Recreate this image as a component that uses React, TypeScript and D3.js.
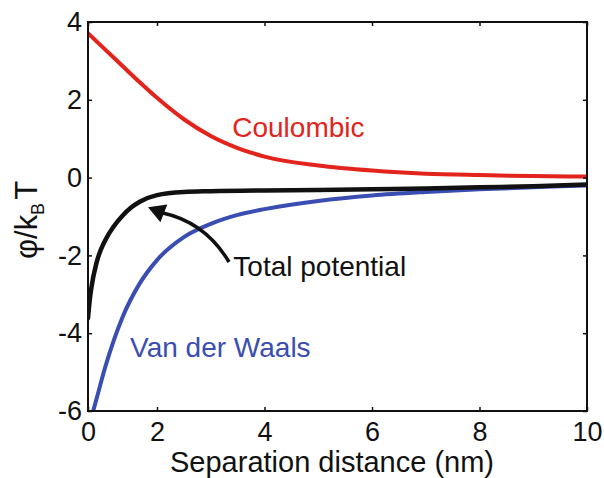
import React, { useRef, useEffect } from 'react';
import * as d3 from 'd3';

const width = 604;
const height = 478;

// tick values
const xTicks = [0, 2, 4, 6, 8, 10];
const yTicks = [-6, -4, -2, 0, 2, 4];

// Coulombic (red)
const coulombX = [0, 0.5, 1, 1.5, 2, 2.5, 3, 3.5, 4, 5, 6, 7, 8, 9, 10];
const coulombY = [3.71, 3.29, 2.87, 2.45, 2.05, 1.5, 1.07, 0.76, 0.54, 0.31, 0.18, 0.1, 0.064, 0.039, 0.026];

// Van der Waals (blue)
const vdwX = [0.15, 0.25, 0.5, 0.75, 1, 1.5, 2, 2.5, 3, 3.5, 4, 5, 6, 7, 8, 9, 10];
const vdwY = [-6.0, -5.68, -4.87, -4.18, -3.59, -2.72, -2.12, -1.53, -1.19, -0.96, -0.81, -0.6, -0.46, -0.37, -0.3, -0.25, -0.2];

// Total potential (black)
const totalX = [0, 0.05, 0.1, 0.25, 0.5, 0.75, 1, 1.25, 1.5, 2, 2.5, 3, 4, 5, 6, 7, 8, 9, 10];
const totalY = [-3.62, -3.15, -2.82, -2.18, -1.61, -1.25, -0.98, -0.77, -0.62, -0.45, -0.37, -0.35, -0.33, -0.32, -0.3, -0.28, -0.25, -0.22, -0.18];

// text labels, in data units
const labelText = ['Coulombic', 'Van der Waals', 'Total potential'];
const labelX = [3.4, 1.22, 3.42];
const labelY = [1.04, -4.62, -2.54];
const labelColor = ['#e2241c', '#3a4db2', '#111'];

// arrow from "Total potential" to the black curve: tail, control, end of shaft, tip
const arrowX = [3.34, 2.9, 2.11, 1.74];
const arrowY = [-2.17, -1.15, -0.91, -0.76];

const FONT = '"Liberation Sans", Arial, Helvetica, sans-serif';

const App = () => {
  const ref = useRef(null);

  useEffect(() => {
    const svg = d3.select(ref.current);
    svg.selectAll('*').remove();

    const left = 88, right = 587, top = 22, bottom = 411;

    // the 0 tick sits closer to 2 than the other ticks do in the figure
    const x = d3.scaleLinear().domain([0, 2, 10]).range([left, 157, right]);
    const y = d3.scaleLinear().domain([-6, 4]).range([bottom, top]);

    svg.append('defs').append('clipPath').attr('id', 'plot-clip')
      .append('rect')
        .attr('x', left).attr('y', top)
        .attr('width', right - left).attr('height', bottom - top);

    const line = d3.line()
      .x(d => x(d[0]))
      .y(d => y(d[1]))
      .curve(d3.curveMonotoneX);

    const series = [
      { xs: coulombX, ys: coulombY, color: '#e2241c', w: 4 },
      { xs: vdwX, ys: vdwY, color: '#3a4db2', w: 4 },
      { xs: totalX, ys: totalY, color: '#111', w: 4.5 },
    ];

    const curves = svg.append('g').attr('clip-path', 'url(#plot-clip)');
    series.forEach(s => {
      curves.append('path')
        .datum(s.xs.map((v, i) => [v, s.ys[i]]))
        .attr('d', line)
        .attr('fill', 'none')
        .attr('stroke', s.color)
        .attr('stroke-width', s.w)
        .attr('stroke-linecap', 'round');
    });

    // axes: ticks point inward on all four sides
    const styleAxis = (g, showLabels) => {
      g.select('.domain').remove();
      g.selectAll('.tick line').attr('stroke', '#111').attr('stroke-width', 1.5);
      g.selectAll('.tick text')
        .attr('fill', '#111')
        .style('font-size', '27px')
        .style('font-family', FONT)
        .style('display', showLabels ? null : 'none');
    };

    const fmt = d => String(d); // plain hyphen for negatives, as in the figure

    svg.append('g')
      .attr('transform', `translate(0,${bottom})`)
      .call(d3.axisBottom(x).tickValues(xTicks).tickSizeInner(-4).tickSizeOuter(0).tickPadding(11).tickFormat(fmt))
      .call(g => styleAxis(g, true));

    svg.append('g')
      .attr('transform', `translate(0,${top})`)
      .call(d3.axisTop(x).tickValues(xTicks).tickSizeInner(-4).tickSizeOuter(0))
      .call(g => styleAxis(g, false));

    svg.append('g')
      .attr('transform', `translate(${left},0)`)
      .call(d3.axisLeft(y).tickValues(yTicks).tickSizeInner(-4).tickSizeOuter(0).tickPadding(6).tickFormat(fmt))
      .call(g => styleAxis(g, true));

    svg.append('g')
      .attr('transform', `translate(${right},0)`)
      .call(d3.axisRight(y).tickValues(yTicks).tickSizeInner(-4).tickSizeOuter(0))
      .call(g => styleAxis(g, false));

    svg.append('rect')
      .attr('x', left).attr('y', top)
      .attr('width', right - left).attr('height', bottom - top)
      .attr('fill', 'none')
      .attr('stroke', '#111')
      .attr('stroke-width', 2);

    // axis titles
    svg.append('text')
      .attr('x', 332)
      .attr('y', 472)
      .attr('text-anchor', 'middle')
      .attr('fill', '#111')
      .style('font-size', '29px')
      .style('font-family', FONT)
      .text('Separation distance (nm)');

    const yTitle = svg.append('text')
      .attr('transform', 'translate(37,220) rotate(-90)')
      .attr('text-anchor', 'middle')
      .attr('fill', '#111')
      .style('font-size', '31px')
      .style('font-family', FONT);
    yTitle.append('tspan').text('φ/k');
    yTitle.append('tspan').attr('dy', 7).style('font-size', '18px').text('B');
    yTitle.append('tspan').attr('dy', -7).attr('dx', 3).text('T');

    // curve labels
    labelText.forEach((t, i) => {
      svg.append('text')
        .attr('x', x(labelX[i]))
        .attr('y', y(labelY[i]))
        .attr('fill', labelColor[i])
        .style('font-size', '28px')
        .style('font-family', FONT)
        .text(t);
    });

    // arrow
    const p = arrowX.map((v, i) => [x(v), y(arrowY[i])]);
    svg.append('path')
      .attr('d', `M${p[0][0]},${p[0][1]} Q${p[1][0]},${p[1][1]} ${p[2][0]},${p[2][1]}`)
      .attr('fill', 'none')
      .attr('stroke', '#111')
      .attr('stroke-width', 3.5);

    const dx = p[3][0] - p[2][0], dy = p[3][1] - p[2][1];
    const len = Math.hypot(dx, dy);
    const ux = dx / len, uy = dy / len;
    const headLen = 17, half = 9.5;
    const bx = p[3][0] - ux * headLen, by = p[3][1] - uy * headLen;
    svg.append('path')
      .attr('d', `M${p[3][0]},${p[3][1]} L${bx - uy * half},${by + ux * half} L${bx + uy * half},${by - ux * half} Z`)
      .attr('fill', '#111');
  }, []);

  return (
    <svg
      ref={ref}
      width={width}
      height={height}
      style={{ position: 'absolute', left: 0, top: 0, background: '#fff' }}
    ></svg>
  );
};

export default App;
